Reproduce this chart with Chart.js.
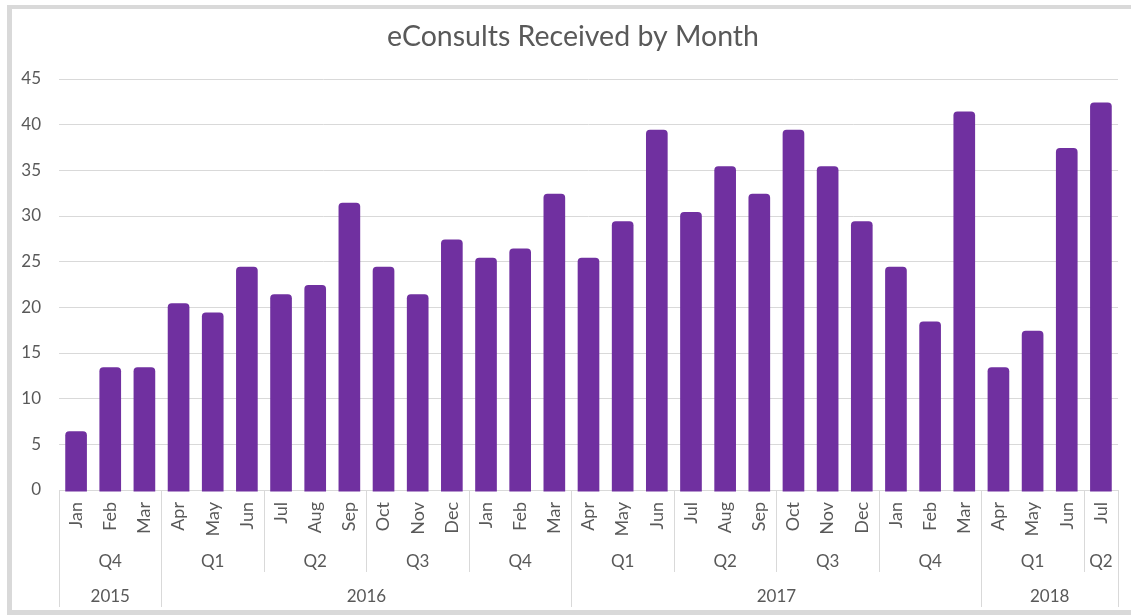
<!DOCTYPE html>
<html>
<head>
<meta charset="utf-8">
<title>eConsults Received by Month</title>
<script src="https://cdn.jsdelivr.net/npm/chart.js@4.4.1/dist/chart.umd.min.js"></script>
<style>
  html, body { margin: 0; padding: 0; background: #fff; overflow: hidden; }
  #frame {
    position: absolute; left: 7px; top: 5px; width: 1200px; height: 601px;
    border-left: 5px solid #d9d9d9; border-top: 4px solid #d9d9d9; border-bottom: 5px solid #d9d9d9;
  }
  #wrap { position: absolute; left: 0; top: 0; width: 1131px; height: 615px; }
</style>
</head>
<body>
<div id="frame"></div>
<div id="wrap"><canvas id="chart"></canvas></div>
<script>
// data
const months = ["Jan", "Feb", "Mar", "Apr", "May", "Jun", "Jul", "Aug", "Sep", "Oct", "Nov", "Dec",
  "Jan", "Feb", "Mar", "Apr", "May", "Jun", "Jul", "Aug", "Sep", "Oct", "Nov", "Dec",
  "Jan", "Feb", "Mar", "Apr", "May", "Jun", "Jul"];
const values = [6, 13, 13, 20, 19, 24, 21, 22, 31, 24, 21, 27, 25, 26, 32,
  25, 29, 39, 30, 35, 32, 39, 35, 29, 24, 18, 41, 13, 17, 37, 42];
const quarterLabels = ["Q4", "Q1", "Q2", "Q3", "Q4", "Q1", "Q2", "Q3", "Q4", "Q1", "Q2"];
const quarterSpans = [3, 3, 3, 3, 3, 3, 3, 3, 3, 3, 1];
const yearLabels = ["2015", "2016", "2017", "2018"];
const yearSpans = [3, 12, 12, 4];
const yTicks = [0, 5, 10, 15, 20, 25, 30, 35, 40, 45];
const chartTitle = "eConsults Received by Month";

const TEXT = "#595959";
const LINE = "#d9d9d9";
const FONT = "Lato";

/* ===============================
   Title + grouped category axis (quarters / years)
=============================== */
const groupAxis = {
  id: "groupAxis",
  afterDraw(chart) {
    const { ctx, chartArea } = chart;
    const x = chart.scales.x;
    const step = x.width / months.length;
    const edge = i => x.getPixelForValue(i) - step / 2;
    const top = chartArea.bottom;

    ctx.save();
    ctx.fillStyle = TEXT;
    ctx.textAlign = "center";
    ctx.textBaseline = "middle";

    // title (Excel centres it a little right of the canvas middle)
    ctx.font = `28.5px ${FONT}`;
    ctx.fillText(chartTitle, 573, 36.5);

    ctx.strokeStyle = LINE;
    ctx.lineWidth = 1;
    ctx.font = `17px ${FONT}`;

    const vline = (px, y2) => {
      const xx = Math.round(px) + 0.5;
      ctx.beginPath();
      ctx.moveTo(xx, top);
      ctx.lineTo(xx, y2);
      ctx.stroke();
    };

    // quarters
    let start = 0;
    quarterSpans.forEach((span, i) => {
      vline(edge(start), 572);
      const mid = (edge(start) + edge(start + span)) / 2;
      ctx.fillText(quarterLabels[i], mid, 562);
      start += span;
    });

    // years
    start = 0;
    yearSpans.forEach((span, i) => {
      vline(edge(start), 607);
      const mid = (edge(start) + edge(start + span)) / 2;
      ctx.fillText(yearLabels[i], mid, 597);
      start += span;
    });
    vline(edge(months.length), 607);
    ctx.restore();
  }
};

new Chart(document.getElementById("chart"), {
  type: "bar",
  data: {
    labels: months,
    datasets: [{
      data: values,
      backgroundColor: "#7030A0",
      barPercentage: 0.4,
      categoryPercentage: 1,
      borderRadius: 4,
      inflateAmount: 4,
      clip: { left: false, top: false, right: false, bottom: 1.5 }
    }]
  },
  options: {
    responsive: true,
    maintainAspectRatio: false,
    animation: false,
    layout: { padding: { left: 0, right: 13, top: 79, bottom: 0 } },
    plugins: {
      legend: { display: false },
      tooltip: { enabled: false },
      title: { display: false }
    },
    scales: {
      x: {
        grid: { display: false },
        border: { display: false },
        ticks: {
          color: TEXT,
          font: { family: FONT, size: 18 },
          autoSkip: false,
          minRotation: 90,
          maxRotation: 90,
          padding: 4
        },
        afterFit(scale) { scale.height = 125; }
      },
      y: {
        min: 0,
        max: 45,
        afterBuildTicks(scale) { scale.ticks = yTicks.map(v => ({ value: v })); },
        grid: { color: LINE, lineWidth: 1, drawTicks: false },
        border: { display: false },
        ticks: {
          color: TEXT,
          font: { family: FONT, size: 17 },
          padding: 18
        },
        afterFit(scale) { scale.width = 59; }
      }
    }
  },
  plugins: [groupAxis]
});
</script>
</body>
</html>
